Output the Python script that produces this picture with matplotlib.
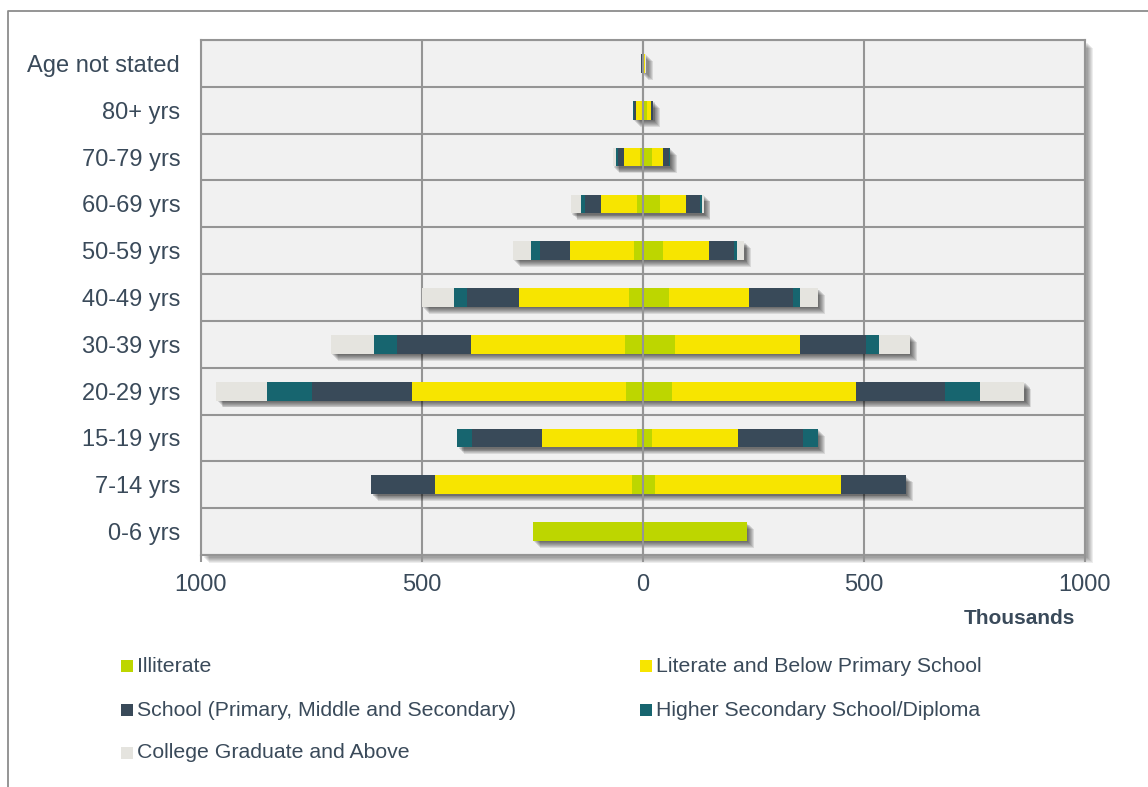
import matplotlib
matplotlib.use("Agg")
import matplotlib.pyplot as plt
import matplotlib.patheffects as pe
from matplotlib.patches import Rectangle
from matplotlib.lines import Line2D
import numpy as np

# ---------------- data (thousands) ----------------
categories = ["0-6 yrs", "7-14 yrs", "15-19 yrs", "20-29 yrs", "30-39 yrs",
              "40-49 yrs", "50-59 yrs", "60-69 yrs", "70-79 yrs", "80+ yrs",
              "Age not stated"]
series_names = ["Illiterate", "Literate and Below Primary School",
                "School (Primary, Middle and Secondary)",
                "Higher Secondary School/Diploma", "College Graduate and Above"]

left_illiterate = [249, 24, 14, 38, 41, 32, 20, 14, 6, 2, 1]
left_literate   = [0, 446, 214, 485, 349, 248, 146, 80, 36, 14, 2]
left_school     = [0, 145, 159, 225, 166, 118, 68, 38, 15, 4.5, 1]
left_higher     = [0, 0, 33, 102, 53, 29, 20, 9, 4, 2, 0.5]
left_college    = [0, 0, 0, 115, 97, 74, 41, 23, 8, 1, 1]

right_illiterate = [235, 27, 20, 66, 72, 58, 45, 38, 20, 10, 1.5]
right_literate   = [0, 422, 196, 417, 284, 182, 104, 59, 25, 8, 2]
right_school     = [0, 146, 147, 201, 149, 100, 58, 32, 14, 4.5, 1]
right_higher     = [0, 0, 33, 79, 30, 16, 6, 4, 1, 0.5, 0.5]
right_college    = [0, 0, 0, 100, 69, 40, 16, 4, 1, 0, 1]

x_ticks = [-1000, -500, 0, 500, 1000]
x_tick_labels = ["1000", "500", "0", "500", "1000"]
x_axis_title = "Thousands"

# ---------------- style ----------------
colors = ["#BDD600", "#F7E500", "#394A59", "#17656F", "#E5E4DF"]
text_color = "#3A4A5A"
grid_color = "#959595"
bg_color = "#F1F1F1"

plt.rcParams['font.family'] = ['Liberation Sans', 'DejaVu Sans']

W, H = 1148, 787
fig = plt.figure(figsize=(W / 100, H / 100), dpi=100)
fig.patch.set_facecolor("white")

# outer frame (top and left edges visible)
fig.add_artist(Line2D([8 / W, 8 / W, 1.0], [0, 1 - 11 / H, 1 - 11 / H],
                      transform=fig.transFigure, color="#8C8C8C", lw=1.3))

ax = fig.add_axes([201 / W, 1 - 555 / H, 884 / W, 515 / H])
ax.set_facecolor(bg_color)


def soft_shadow(max_off, n, alpha):
    return [pe.SimplePatchShadow(offset=(o, -o), shadow_rgbFace="black", alpha=alpha)
            for o in np.linspace(1.0, max_off, n)]


ax.patch.set_path_effects(soft_shadow(6.0, 7, 0.07) + [pe.Normal()])

y = np.arange(len(categories))
bar_h = 0.4

left_series = [left_illiterate, left_literate, left_school, left_higher, left_college]
right_series = [right_illiterate, right_literate, right_school, right_higher, right_college]

left_total = np.sum(np.array(left_series, dtype=float), axis=0)
right_total = np.sum(np.array(right_series, dtype=float), axis=0)

# drop shadows of the whole bars
shadow_bars = ax.barh(y, left_total + right_total, left=-left_total, height=bar_h,
                      color=bg_color, linewidth=0, zorder=2)
for p in shadow_bars:
    p.set_path_effects(soft_shadow(5.0, 7, 0.1))

cum_l = np.zeros(len(categories))
cum_r = np.zeros(len(categories))
for name, col, lv, rv in zip(series_names, colors, left_series, right_series):
    lv = np.array(lv, dtype=float)
    rv = np.array(rv, dtype=float)
    ax.barh(y, -lv, left=-cum_l, height=bar_h, color=col, linewidth=0, zorder=3)
    ax.barh(y, rv, left=cum_r, height=bar_h, color=col, linewidth=0, zorder=3,
            label=name)
    cum_l += lv
    cum_r += rv

# axes, grid
ax.set_xlim(-1000, 1000)
ax.set_ylim(-0.5, len(categories) - 0.5)
ax.set_xticks(x_ticks)
ax.set_xticklabels(x_tick_labels)
ax.set_yticks(y)
ax.set_yticklabels(categories)
ax.set_yticks(np.arange(-0.5, len(categories), 1), minor=True)
ax.set_axisbelow(True)
ax.grid(axis="x", which="major", color=grid_color, lw=1.5)
ax.grid(axis="y", which="minor", color=grid_color, lw=1.5)
ax.grid(axis="y", which="major", visible=False)
ax.axvline(0, color=grid_color, lw=1.5, zorder=5)

for s in ax.spines.values():
    s.set_color(grid_color)
    s.set_linewidth(1.5)

ax.tick_params(axis="x", which="major", length=5, width=1.5, color=grid_color,
               labelsize=17, labelcolor=text_color, pad=9)
ax.tick_params(axis="y", which="both", length=0, labelsize=17,
               labelcolor=text_color, pad=15)

fig.text(1019.5 / W, 1 - 618 / H, x_axis_title, ha="center", va="center",
         fontsize=15, fontweight="bold", color=text_color)

# legend (row-major, 2 columns)
leg_pos = [(121, 666), (640, 666), (121, 710), (640, 710), (121, 753)]
sq = 12
for (lx, ly), name, col in zip(leg_pos, series_names, colors):
    fig.add_artist(Rectangle((lx / W, 1 - (ly + sq / 2) / H), sq / W, sq / H,
                             transform=fig.transFigure, facecolor=col,
                             edgecolor="none"))
    fig.text((lx + sq + 4) / W, 1 - ly / H, name, ha="left", va="center",
             fontsize=15.3, color=text_color)

fig.savefig("out.png", dpi=100, facecolor="white")
